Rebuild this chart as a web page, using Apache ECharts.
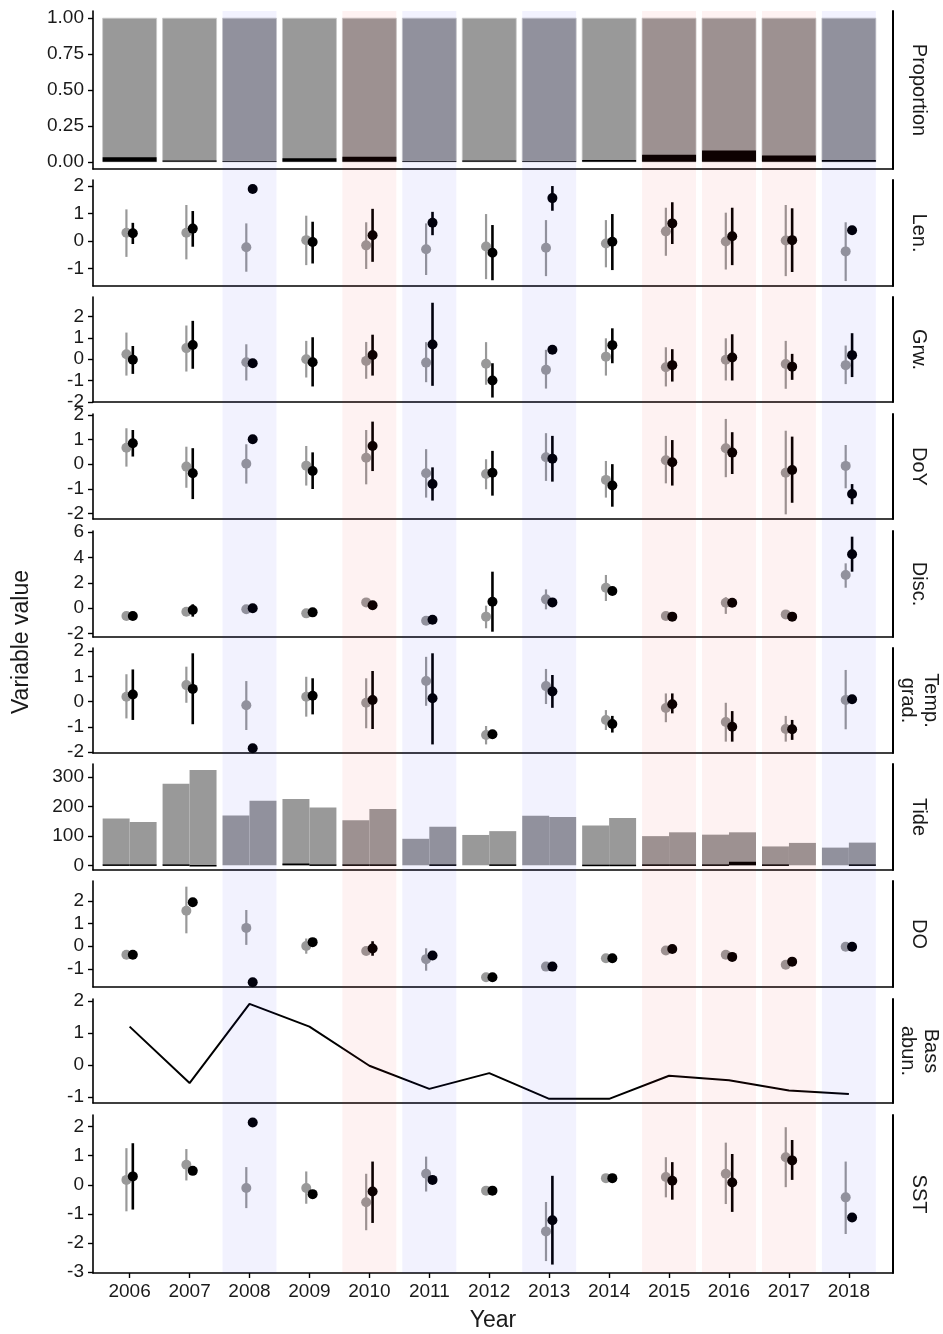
<!DOCTYPE html>
<html><head><meta charset="utf-8">
<script src="https://cdn.jsdelivr.net/npm/echarts@6/dist/echarts.min.js"></script>
<style>html,body{margin:0;padding:0;background:#fff}#c{width:943px;height:1334px}</style>
</head><body><div id="c"></div>
<script>
// ---------------- DATA ----------------
const years = [2006,2007,2008,2009,2010,2011,2012,2013,2014,2015,2016,2017,2018];
const yearType = ['n','n','b','n','r','b','n','b','n','r','r','r','b']; // b = blue shaded, r = red shaded
const xTickLabels = years.slice();

const propBlack = [0.032,0.010,0.005,0.025,0.035,0.005,0.010,0.005,0.012,0.049,0.079,0.044,0.012];

const tideGrayA  = [159,277,169,225,153, 90,103,168,135, 99,104, 64, 60];
const tideGrayB  = [147,324,219,196,191,131,116,164,161,112,112, 76, 77];
const tideBlackA = [3,3,0,6,3,0,0,0,2,3,3,3,0];
const tideBlackB = [3,1,0,3,3,3,3,0,2,3,12,0,3];

// [estimate, lower, upper]
const lenGray = [[0.30,-0.58,1.15],[0.30,-0.67,1.31],[-0.23,-1.12,0.64],[0.03,-0.88,0.92],[-0.16,-1.02,0.68],[-0.30,-1.24,0.64],[-0.20,-1.39,0.98],[-0.25,-1.28,0.76],[-0.09,-0.96,0.76],[0.35,-0.54,1.21],[-0.02,-1.04,1.03],[0.02,-1.28,1.31],[-0.38,-1.46,0.68]];
const lenBlack = [[0.28,-0.11,0.66],[0.45,-0.21,1.09],[1.89,null,null],[-0.04,-0.82,0.70],[0.21,-0.76,1.17],[0.66,0.21,1.06],[-0.43,-1.43,0.58],[1.56,1.10,2.00],[-0.03,-1.06,0.98],[0.64,-0.11,1.41],[0.17,-0.88,1.21],[0.03,-1.13,1.19],[0.39,null,null]];

const grwGray = [[0.23,-0.77,1.25],[0.52,-0.58,1.58],[-0.14,-1.00,0.70],[0.00,-0.86,0.86],[-0.08,-0.92,0.81],[-0.16,-1.08,0.80],[-0.21,-1.20,0.80],[-0.50,-1.38,0.44],[0.12,-0.77,0.98],[-0.38,-1.28,0.56],[-0.03,-1.00,0.98],[-0.23,-1.39,0.86],[-0.28,-1.17,0.64]];
const grwBlack = [[-0.03,-0.69,0.62],[0.67,-0.45,1.80],[-0.19,null,null],[-0.14,-1.28,1.03],[0.20,-0.77,1.15],[0.69,-1.25,2.65],[-1.00,-1.80,-0.19],[0.44,null,null],[0.66,-0.19,1.45],[-0.28,-1.05,0.47],[0.08,-1.00,1.17],[-0.35,-0.97,0.25],[0.19,-0.84,1.22]];

const doyGray = [[0.67,-0.10,1.46],[-0.10,-0.96,0.71],[0.02,-0.79,0.81],[-0.06,-0.87,0.74],[0.26,-0.82,1.39],[-0.37,-1.36,0.61],[-0.40,-1.02,0.20],[0.28,-0.68,1.26],[-0.64,-1.36,0.13],[0.16,-0.78,1.15],[0.65,-0.53,1.84],[-0.35,-2.04,1.36],[-0.07,-0.98,0.78]];
const doyBlack = [[0.85,0.31,1.39],[-0.37,-1.42,0.65],[1.01,null,null],[-0.28,-1.01,0.48],[0.74,-0.28,1.73],[-0.81,-1.48,-0.13],[-0.35,-1.28,0.54],[0.22,-0.71,1.15],[-0.87,-1.73,0.00],[0.08,-0.87,0.98],[0.47,-0.40,1.30],[-0.24,-1.57,1.12],[-1.21,-1.63,-0.81]];

const discGray = [[-0.63,null,null],[-0.29,null,null],[-0.10,null,null],[-0.42,null,null],[0.45,null,null],[-1.00,null,null],[-0.68,-1.60,0.19],[0.69,-0.10,1.48],[1.61,0.56,2.62],[-0.63,null,null],[0.42,-0.46,0.86],[-0.50,null,null],[2.62,1.61,3.54]];
const discBlack = [[-0.63,null,null],[-0.15,-0.68,0.30],[-0.02,null,null],[-0.34,null,null],[0.22,null,null],[-0.92,null,null],[0.50,-1.87,2.88],[0.45,null,null],[1.35,null,null],[-0.68,null,null],[0.42,null,null],[-0.68,null,null],[4.26,2.88,5.65]];

const tempGray = [[0.19,-0.67,1.08],[0.65,-0.05,1.38],[-0.15,-1.13,0.81],[0.19,-0.60,0.98],[-0.05,-1.06,0.92],[0.81,-0.17,1.77],[-1.33,-1.70,-0.97],[0.61,-0.10,1.29],[-0.73,-1.13,-0.34],[-0.26,-0.82,0.32],[-0.81,-1.59,-0.05],[-1.09,-1.59,-0.57],[0.06,-1.10,1.25]];
const tempBlack = [[0.28,-0.73,1.27],[0.50,-0.90,1.91],[-1.85,null,null],[0.23,-0.51,0.92],[0.06,-1.09,1.21],[0.13,-1.70,1.91],[-1.30,null,null],[0.40,-0.25,1.05],[-0.89,-1.23,-0.57],[-0.11,-0.47,0.32],[-1.00,-1.59,-0.38],[-1.10,-1.52,-0.73],[0.09,null,null]];

const doGray = [[-0.38,null,null],[1.57,0.57,2.63],[0.81,0.06,1.60],[0.01,-0.33,0.34],[-0.21,null,null],[-0.57,-1.08,-0.09],[-1.37,null,null],[-0.90,null,null],[-0.53,null,null],[-0.19,null,null],[-0.38,null,null],[-0.82,null,null],[-0.02,null,null]];
const doBlack = [[-0.38,null,null],[1.94,null,null],[-1.59,null,null],[0.18,null,null],[-0.10,-0.42,0.22],[-0.41,null,null],[-1.37,null,null],[-0.90,null,null],[-0.53,null,null],[-0.12,null,null],[-0.47,null,null],[-0.68,null,null],[-0.02,null,null]];

const bassAbun = [1.20,-0.56,1.91,1.20,-0.02,-0.74,-0.25,-1.05,-1.05,-0.33,-0.47,-0.79,-0.90];

const sstGray = [[0.17,-0.91,1.26],[0.69,0.15,1.23],[-0.11,-0.80,0.61],[-0.11,-0.65,0.46],[-0.60,-1.56,0.38],[0.38,-0.23,0.97],[-0.20,null,null],[-1.60,-2.62,-0.59],[0.23,null,null],[0.27,-0.43,0.95],[0.38,-0.66,1.45],[0.95,-0.08,1.98],[-0.43,-1.69,0.80]];
const sstBlack = [[0.29,-0.85,1.43],[0.48,null,null],[2.14,null,null],[-0.32,null,null],[-0.23,-1.31,0.80],[0.17,null,null],[-0.20,null,null],[-1.22,-2.74,0.31],[0.23,null,null],[0.14,-0.51,0.78],[0.08,-0.93,1.06],[0.84,0.17,1.54],[-1.12,null,null]];

const propTicks = [0,0.25,0.5,0.75,1];
const tideTicks = [0,100,200,300];

// ---------------- LAYOUT ----------------
const FONT = '"Liberation Sans", Arial, sans-serif';
const TXT = '#1a1a1a';
const GRAY = '#999999';
const XMIN = 2005.389, XMAX = 2018.736;
const GL = 93, GW = 800;

const panels = [
  {label:'Proportion',   top:11,   height:158, min:-0.05, max:1.05, ticks:propTicks, dec:2},
  {label:'Len.',         top:180,  height:106, min:-1.64, max:2.22, ticks:[-1,0,1,2]},
  {label:'Grw.',         top:297,  height:105, min:-2.01, max:2.92, ticks:[-2,-1,0,1,2]},
  {label:'DoY',          top:414,  height:105, min:-2.23, max:2.04, ticks:[-2,-1,0,1,2]},
  {label:'Disc.',        top:531,  height:106, min:-2.29, max:6.10, ticks:[-2,0,2,4,6]},
  {label:'Temp.\ngrad.', top:648,  height:105, min:-2.04, max:2.12, ticks:[-2,-1,0,1,2]},
  {label:'Tide',         top:764,  height:106, min:-16,   max:344,  ticks:tideTicks},
  {label:'DO',           top:881,  height:106, min:-1.80, max:2.88, ticks:[-1,0,1,2]},
  {label:'Bass\nabun.',  top:999,  height:104, min:-1.18, max:2.06, ticks:[-1,0,1,2]},
  {label:'SST',          top:1115, height:158, min:-3.03, max:2.40, ticks:[-3,-2,-1,0,1,2]}
];
const N = panels.length;
const LAST = N - 1;

const grids = [], xAxes = [], yAxes = [], series = [], graphics = [];

panels.forEach((p, i) => {
  grids.push({left: GL, width: GW, top: p.top, height: p.height, containLabel: false});
  const isLast = i === LAST;
  xAxes.push({
    type: 'value', gridIndex: i, min: XMIN, max: XMAX,
    axisLine: {show: true, onZero: false, lineStyle: {color: '#000', width: 1.6}},
    axisTick: {show: isLast, customValues: xTickLabels, length: 5, lineStyle: {color: '#000', width: 1.4}},
    axisLabel: {show: isLast, customValues: xTickLabels, margin: 9, fontSize: 19, fontFamily: FONT, color: TXT,
      formatter: v => String(Math.round(v))},
    splitLine: {show: false}
  });
  yAxes.push({
    type: 'value', gridIndex: i, min: p.min, max: p.max, position: 'left',
    axisLine: {show: true, onZero: false, lineStyle: {color: '#000', width: 1.6}},
    axisTick: {show: true, customValues: p.ticks, length: 5, lineStyle: {color: '#000', width: 1.4}},
    axisLabel: {show: true, customValues: p.ticks, margin: 9, fontSize: 19, fontFamily: FONT, color: TXT,
      formatter: v => p.dec ? v.toFixed(p.dec) : String(Math.round(v))},
    splitLine: {show: false}
  });
  yAxes.push({
    type: 'value', gridIndex: i, min: p.min, max: p.max, position: 'right',
    axisLine: {show: true, onZero: false, lineStyle: {color: '#000', width: 2}},
    axisTick: {show: false}, axisLabel: {show: false}, splitLine: {show: false}
  });
  graphics.push({
    type: 'text', x: 919, y: p.top + p.height / 2, rotation: -Math.PI / 2,
    style: {text: p.label, fontSize: 20, fontFamily: FONT, fill: TXT, align: 'center', verticalAlign: 'middle', lineHeight: 23}
  });
});

// overlay grid for year shading
grids.push({left: GL, width: GW, top: 11, height: 1262});
xAxes.push({type: 'value', gridIndex: N, min: XMIN, max: XMAX, show: false});
yAxes.push({type: 'value', gridIndex: N, min: 0, max: 1, show: false});

function yi(i) { return 2 * i; }

function pointSeries(i, arr, dx, color, lw, z) {
  const errData = [], ptData = [];
  arr.forEach((d, k) => {
    ptData.push([years[k], d[0]]);
    if (d[1] !== null) errData.push([years[k], d[1], d[2]]);
  });
  series.push({
    type: 'custom', xAxisIndex: i, yAxisIndex: yi(i), z: z, silent: true, clip: false,
    data: errData, encode: {x: 0, y: [1, 2]},
    renderItem: (params, api) => {
      const a = api.coord([api.value(0), api.value(1)]);
      const b = api.coord([api.value(0), api.value(2)]);
      return {type: 'line', shape: {x1: a[0] + dx, y1: a[1], x2: b[0] + dx, y2: b[1]},
        style: {stroke: color, lineWidth: lw}};
    }
  });
  series.push({
    type: 'custom', xAxisIndex: i, yAxisIndex: yi(i), z: z, silent: true, clip: false,
    data: ptData, encode: {x: 0, y: 1},
    renderItem: (params, api) => {
      const c = api.coord([api.value(0), api.value(1)]);
      return {type: 'circle', shape: {cx: c[0] + dx, cy: c[1], r: 5}, style: {fill: color}};
    }
  });
}

function dotPanel(i, gray, black) {
  pointSeries(i, gray, -3.2, GRAY, 2.2, 3);
  pointSeries(i, black, 3.2, '#000', 2.6, 4);
}

// Proportion bars
series.push({
  type: 'custom', xAxisIndex: 0, yAxisIndex: 0, z: 2, silent: true,
  data: years.map((y, k) => [y, propBlack[k]]), encode: {x: 0, y: 1},
  renderItem: (params, api) => {
    const x = api.value(0), v = api.value(1);
    const p0 = api.coord([x - 0.45, 0]), p1 = api.coord([x + 0.45, 1]);
    const b1 = api.coord([x + 0.45, v]);
    return {type: 'group', children: [
      {type: 'rect', shape: {x: p0[0], y: p1[1], width: p1[0] - p0[0], height: p0[1] - p1[1]},
        style: {fill: GRAY, stroke: '#c8c8c8', lineWidth: 0.8}},
      {type: 'rect', shape: {x: p0[0], y: b1[1], width: p1[0] - p0[0], height: p0[1] - b1[1]},
        style: {fill: '#000'}}
    ]};
  }
});

dotPanel(1, lenGray, lenBlack);
dotPanel(2, grwGray, grwBlack);
dotPanel(3, doyGray, doyBlack);
dotPanel(4, discGray, discBlack);
dotPanel(5, tempGray, tempBlack);

// Tide bars
series.push({
  type: 'custom', xAxisIndex: 6, yAxisIndex: yi(6), z: 2, silent: true,
  data: years.map((y, k) => [y, tideGrayA[k], tideGrayB[k], tideBlackA[k], tideBlackB[k]]),
  encode: {x: 0, y: [1, 2]},
  renderItem: (params, api) => {
    const x = api.value(0);
    const halves = [[x - 0.45, x, api.value(1), api.value(3)], [x, x + 0.45, api.value(2), api.value(4)]];
    const ch = [];
    halves.forEach(h => {
      const a = api.coord([h[0], 0]), b = api.coord([h[1], h[2]]);
      ch.push({type: 'rect', shape: {x: a[0], y: b[1], width: b[0] - a[0], height: a[1] - b[1]},
        style: {fill: GRAY}});
    });
    halves.forEach(h => {
      if (h[3] > 0) {
        const a = api.coord([h[0], 0]), b = api.coord([h[1], h[3]]);
        ch.push({type: 'rect', shape: {x: a[0], y: b[1], width: b[0] - a[0], height: Math.max(1.5, a[1] - b[1])},
          style: {fill: '#000'}});
      }
    });
    return {type: 'group', children: ch};
  }
});

dotPanel(7, doGray, doBlack);

// Bass abundance line
series.push({
  type: 'line', xAxisIndex: 8, yAxisIndex: yi(8), z: 3, silent: true,
  data: years.map((y, k) => [y, bassAbun[k]]),
  showSymbol: false, symbol: 'none',
  lineStyle: {color: '#000', width: 2}
});

dotPanel(9, sstGray, sstBlack);

// Shading overlay (translucent, on top)
series.push({
  type: 'custom', xAxisIndex: N, yAxisIndex: 2 * N, z: 20, silent: true,
  data: years.map((y, k) => [y, yearType[k] === 'b' ? 1 : (yearType[k] === 'r' ? 2 : 0)]).filter(d => d[1] > 0),
  encode: {x: 0},
  renderItem: (params, api) => {
    const x = api.value(0), t = api.value(1);
    const a = api.coord([x - 0.45, 0]), b = api.coord([x + 0.45, 1]);
    return {type: 'rect', shape: {x: a[0], y: b[1], width: b[0] - a[0], height: a[1] - b[1]},
      style: {fill: t === 1 ? 'rgba(10,10,230,0.055)' : 'rgba(240,10,10,0.055)'}};
  }
});

graphics.push({type: 'text', x: 22, y: 642, rotation: Math.PI / 2,
  style: {text: 'Variable value', fontSize: 23, fontFamily: FONT, fill: TXT, align: 'center', verticalAlign: 'middle'}});
graphics.push({type: 'text', x: 493, y: 1321,
  style: {text: 'Year', fontSize: 23, fontFamily: FONT, fill: TXT, align: 'center', verticalAlign: 'middle'}});

const chart = echarts.init(document.getElementById('c'), null, {renderer: 'canvas'});
chart.setOption({
  animation: false,
  backgroundColor: '#fff',
  grid: grids, xAxis: xAxes, yAxis: yAxes, series: series, graphic: graphics
});
</script></body></html>
